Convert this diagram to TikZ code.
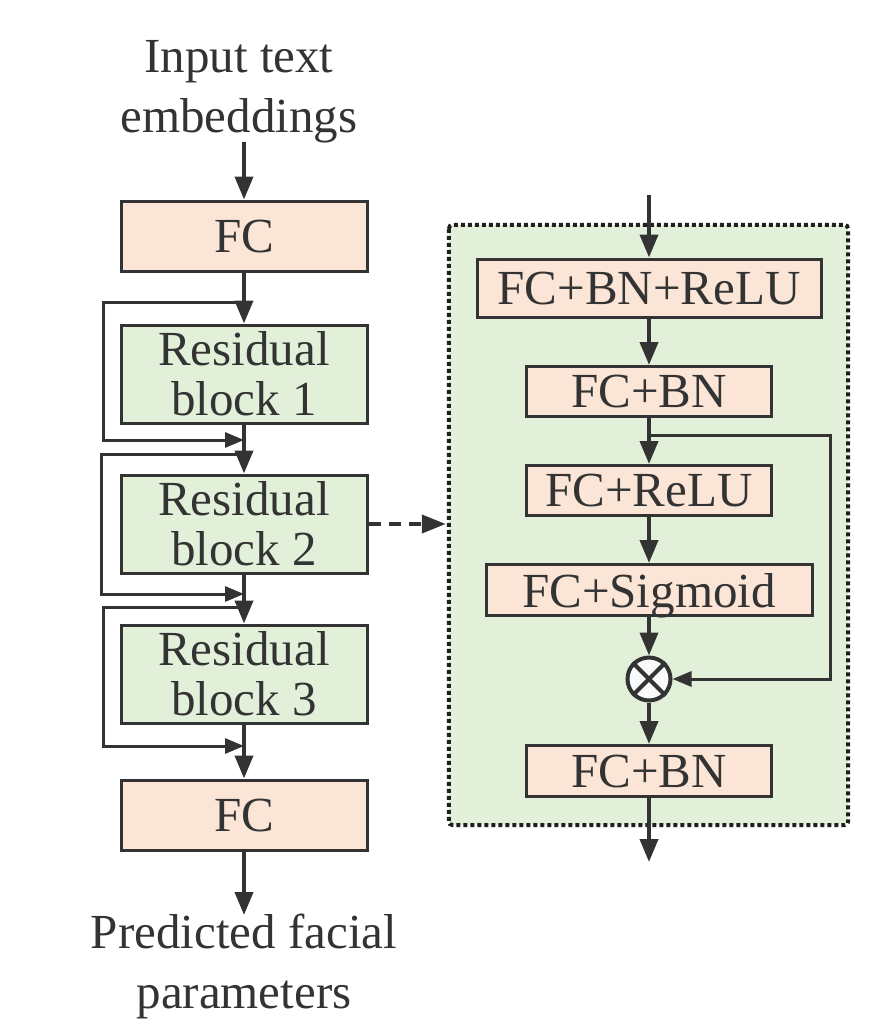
\documentclass[tikz,border=0pt]{standalone}
\usepackage{fontspec}
\setmainfont{Liberation Serif}
\usetikzlibrary{arrows.meta}
\definecolor{peach}{HTML}{FBE5D6}
\definecolor{lgreen}{HTML}{E2F0D9}
\definecolor{ink}{HTML}{333333}
\definecolor{dotink}{HTML}{1E1E1E}
\definecolor{circfill}{HTML}{F8FAFC}
\begin{document}
\begin{tikzpicture}[x=1pt,y=-1pt,
 box/.style={draw=ink, line width=3pt, inner sep=0pt, text=ink, font=\rmfamily\fontsize{49}{50}\selectfont, align=center},
 peachbox/.style={box, fill=peach},
 greenbox/.style={box, fill=lgreen},
 flow/.style={draw=ink, line width=4pt, -{Triangle[length=23pt,width=18pt]}},
 skipline/.style={draw=ink, line width=3pt, -{Triangle[length=19pt,width=15pt]}},
 lbl/.style={text=ink, font=\rmfamily\fontsize{49}{60}\selectfont, align=center, inner sep=0pt}
]
\useasboundingbox (0,0) rectangle (885,1028);

% ---------- right dotted container ----------
\node[fill=lgreen, rounded corners=4pt, minimum width=399pt, minimum height=600pt, inner sep=0pt] (se) at (648.5,525) {};
\draw[dotink, line width=4pt, dash pattern=on 4pt off 3pt, rounded corners=4pt]
  (se.north west) rectangle (se.south east);

% ---------- left column ----------
\node[lbl] (inp) at (239,92) {Input text\\embeddings};
\node[peachbox, minimum width=246pt, minimum height=70pt, text depth=0pt] (fc1) at (244,236) {FC};
\node[greenbox, minimum width=246pt, minimum height=98pt] (rb1) at (244,374) {Residual\\block 1};
\node[greenbox, minimum width=246pt, minimum height=98pt] (rb2) at (244,524) {Residual\\block 2};
\node[greenbox, minimum width=246pt, minimum height=98pt] (rb3) at (244,674) {Residual\\block 3};
\node[peachbox, minimum width=246pt, minimum height=70pt, text depth=0pt] (fc2) at (244,815) {FC};
\node[lbl] (out) at (244,966) {Predicted facial\\parameters};

% skip connections
\coordinate (a1) at (244,302); \coordinate (b1) at (103,302);
\coordinate (c1) at (103,440); \coordinate (d1) at (244,440);
\coordinate (a2) at (244,454); \coordinate (b2) at (101,454);
\coordinate (c2) at (101,594); \coordinate (d2) at (244,594);
\coordinate (a3) at (244,607); \coordinate (b3) at (103,607);
\coordinate (c3) at (103,746); \coordinate (d3) at (244,746);
\draw[skipline] (a1) -- (b1) -- (c1) -- (d1);
\draw[skipline] (a2) -- (b2) -- (c2) -- (d2);
\draw[skipline] (a3) -- (b3) -- (c3) -- (d3);

\coordinate (inpb) at (244,142);
\draw[flow] (inpb) -- (fc1.north);
\draw[flow] (fc1.south) -- (rb1.north);
\draw[flow] (rb1.south) -- (rb2.north);
\draw[flow] (rb2.south) -- (rb3.north);
\draw[flow] (rb3.south) -- (fc2.north);
\coordinate (outt) at (244,915);
\draw[flow] (fc2.south) -- (outt);

% dashed link
\draw[draw=ink, line width=4pt, dash pattern=on 12pt off 8pt, shorten >=3pt,
      -{Triangle[length=24pt,width=18pt]}] (rb2.east) -- (rb2.east -| se.west);

% ---------- right column ----------
\node[peachbox, minimum width=344pt, minimum height=58pt, text depth=0pt] (r1) at (649,288) {FC+BN+ReLU};
\node[peachbox, minimum width=245pt, minimum height=50pt, text depth=0pt] (r2) at (649,391.5) {FC+BN};
\node[peachbox, minimum width=245pt, minimum height=50pt, text depth=0pt] (r3) at (649,490.5) {FC+ReLU};
\node[peachbox, minimum width=326pt, minimum height=51pt, text depth=0pt] (r4) at (649,590) {FC+Sigmoid};
\node[circle, draw=ink, line width=4pt, fill=circfill, minimum size=43pt, inner sep=0pt] (mul) at (649,679) {};
\draw[ink, line width=4pt] (mul.north west) -- (mul.south east) (mul.north east) -- (mul.south west);
\node[peachbox, minimum width=245pt, minimum height=51pt, text depth=0pt] (r5) at (649,771) {FC+BN};

\coordinate (tin) at (649,195);
\coordinate (tout) at (649,862);
\draw[flow] (tin) -- (r1.north);
\draw[flow] (r1.south) -- (r2.north);
\draw[flow] (r2.south) -- (r3.north);
\draw[flow] (r3.south) -- (r4.north);
\draw[flow] (r4.south) -- (mul.north);
\draw[flow] (mul.south) -- (r5.north);
\draw[flow] (r5.south) -- (tout);

\coordinate (k1) at (649,435); \coordinate (k2) at (830,435); \coordinate (k3) at (830,679);
\draw[skipline] (k1) -- (k2) -- (k3) -- (mul.east);
\end{tikzpicture}
\end{document}
